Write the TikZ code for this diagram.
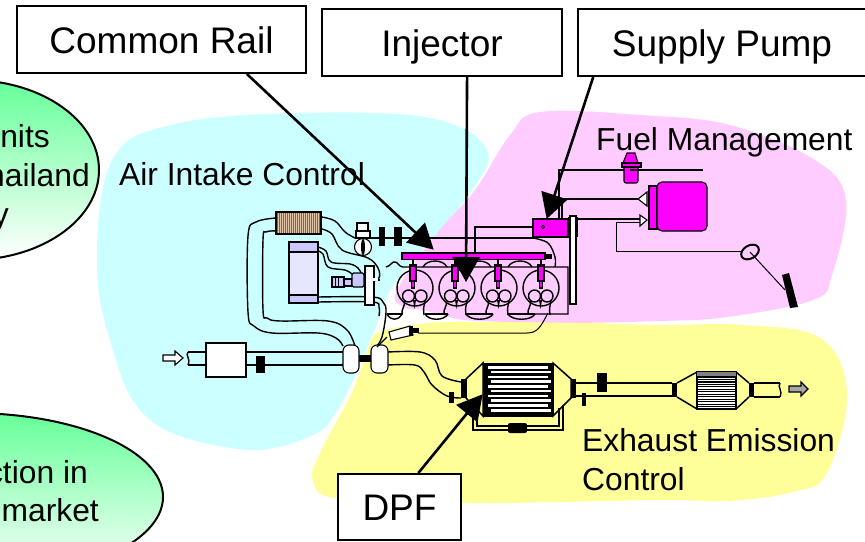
\documentclass[tikz,border=0pt]{standalone}
\usepackage{fontspec}
\setmainfont{Liberation Sans}
\usetikzlibrary{arrows.meta}
\definecolor{airblue}{HTML}{CCFFFF}
\definecolor{fuelpink}{HTML}{FFCCFF}
\definecolor{exhyellow}{HTML}{FFFF99}
\definecolor{railmag}{HTML}{FF00FF}
\definecolor{lav}{HTML}{E6E6FF}
\definecolor{lavd}{HTML}{C8C8FF}
\definecolor{mint}{HTML}{66FF99}
\begin{document}
\begin{tikzpicture}[x=1pt, y=-1pt,
    lbl/.style={draw, line width=2pt, fill=white, font=\fontsize{37}{37}\selectfont, inner sep=0pt, text height=34pt, text depth=7pt},
    txt/.style={font=\fontsize{31.8}{31.8}\selectfont, inner sep=0pt, anchor=base west},
    leader/.style={line width=2.6pt, -{Triangle[length=25pt, width=27pt]}, shorten >=-1pt},
    pipe/.style={line width=1.4pt},
    thin pipe/.style={line width=1pt},
    bar/.style={fill=black, draw=none},
    part/.style={draw, line width=1.1pt}]
    \useasboundingbox (0,0) rectangle (865,541);
    \clip (0,0) rectangle (865,541);

    \fill[airblue] plot[smooth cycle, tension=.62] coordinates {(97,270) (112,160) (175,124) (300,113) (430,118) (487,150) (467,197) (397,280) (380,317) (353,380) (333,417) (313,435) (257,450) (183,437) (140,410) (116,360)};
    \fill[fuelpink] plot[smooth cycle, tension=.62] coordinates {(540,112) (640,115) (730,125) (815,160) (846,200) (832,275) (813,300) (727,317) (660,321) (560,323) (480,321) (453,318) (423,310) (403,307) (397,290) (437,233) (475,190) (510,135)};
    \fill[exhyellow] plot[smooth cycle, tension=.62] coordinates {(413,325) (453,322) (580,323) (660,325) (743,325) (820,338) (847,393) (827,473) (793,492) (727,501) (660,500) (480,503) (340,499) (313,480) (320,453) (353,390) (370,343) (380,332)};

    \draw[line width=2pt, top color=mint, bottom color=white] (-30,170) ellipse [x radius=129, y radius=90];
    \draw[line width=2pt, top color=mint, bottom color=white] (-30,497) ellipse [x radius=193, y radius=84];
    \node[txt, anchor=base east] (unitsa) at (50,147) {nits};
    \node[txt, anchor=base east] (unitsb) at (90,186) {hailand};
    \node[txt, anchor=base east] (unitsc) at (9,225) {y};
    \node[txt, anchor=base east] (marka) at (88,483) {ction in};
    \node[txt, anchor=base east] (markb) at (99,521) {market};

    \node[txt] (airlbl) at (119,185) {Air Intake Control};
    \node[txt] (fuellbl) at (596,150) {Fuel Management};
    \node[txt] (exhlbla) at (582,451) {Exhaust Emission};
    \node[txt] (exhlblb) at (582,490) {Control};

    % intake pipes
    \draw[pipe] plot[smooth, tension=.6] coordinates {(276,218) (256,222) (248,236) (248,312) (254,326) (272,333) (318,333) (336,338) (343,346)};
    \draw[pipe] plot[smooth, tension=.6] coordinates {(276,231) (266,232) (263,240) (263,310) (267,318) (280,321) (328,321) (347,330) (355,346)};
    \draw[pipe] plot[smooth, tension=.6] coordinates {(322,217) (335,221) (345,232) (355,238)};
    \draw[pipe] (355,238) -- (533,238);
    \draw[pipe] plot[smooth, tension=.6] coordinates {(533,238) (548,243) (555,257) (555,267)};
    \draw[pipe] plot[smooth, tension=.6] coordinates {(322,229) (332,234) (342,250) (368,258) (378,268) (379,278) (371,282)};
    \draw[pipe] plot[smooth, tension=.6] coordinates {(318,247) (326,251) (331,262) (350,264) (358,268) (361,273)};
    \draw[pipe] plot[smooth, tension=.6] coordinates {(318,251) (323,254) (328,267) (345,270) (352,274)};
    \draw[pipe] plot[smooth, tension=.6] coordinates {(318,297) (372,297) (383,302) (386,312) (382,337) (376,347)};
    \draw[pipe] plot[smooth, tension=.6] coordinates {(318,302) (372,302) (379,307) (379,316)};
    \draw[pipe] (365,280) -- (380,280);

    % charge cooler
    \fill[brown!45!white] (276,212) rectangle (321,234);
    \foreach \x in {277,279,...,320} {
        \fill[brown!75!black] (\x,213) rectangle ++(1.1,20);
    }
    \draw[line width=1.4pt] (276,212) rectangle (321,234);

    % throttle
    \draw[part, fill=white] (357,223) rectangle (368,231);
    \draw[part, fill=white] (356,231) rectangle (370,238);
    \draw[part, fill=white] (363,247) circle (8.5);
    \fill (363,247) ellipse [x radius=2, y radius=8];
    \fill[bar] (379,227) rectangle (385,246);
    \fill[bar] (394,227) rectangle (402,246);

    % egr cooler
    \draw[part, fill=lav] (289,242) rectangle (318,303);
    \draw[part, fill=lavd] (289,242) rectangle (318,252);
    \draw[part, fill=lavd] (289,295) rectangle (318,303);
    \draw[part, fill=white] (365,266) rectangle (374,305);
    \draw[part, fill=lavd] (332,277) rectangle (344,287);
    \draw[part, fill=lavd] (344,279) rectangle (352,286);
    \draw[part, fill=lavd, rounded corners=1.5pt] (352,273) rectangle (364,287);
    \draw[line width=.8pt] (335,277) -- (335,287) (338,277) -- (338,287);
    \fill[white] (366,278) rectangle (378,281);

    % head and ports
    \draw[pipe] (386,267) .. controls (391,266) and (392,261) .. (395,262) .. controls (398,262) and (399,267) .. (403,267) -- (568,267) -- (568,314) -- (535,314);
    \foreach \hx in {423,467,508} {
        \draw[pipe] (\hx,267) .. controls (\hx+4,259) and (\hx+20,259) .. (\hx+24,267);
    }
    \foreach \bx/\by in {387/402,425/448,466/493,508/535} {
        \draw[pipe] (\bx,314) .. controls (\bx+4,321) and (\by-4,321) .. (\by,314);
        \draw[pipe] (\bx,314) -- (\by,314);
    }
    \foreach \cx in {415,457,499,541} {
        \draw[pipe] (\cx,288) circle (18);
        \draw[pipe, fill=fuelpink] (\cx-6.5,296) circle (6);
        \draw[pipe, fill=fuelpink] (\cx+6,296) circle (6);
        \fill (\cx-2,300) -- (\cx+1,300) -- (\cx-.5,309) -- cycle;
        \draw[pipe] (\cx-11,301) .. controls (\cx-9,306) and (\cx-14,308) .. (\cx-13,315);
        \draw[pipe] (\cx+10,301) .. controls (\cx+9,306) and (\cx+8,308) .. (\cx+9,315);
    }
    \foreach \ix in {413,455,498,541} {
        \fill (\ix-4,264) rectangle (\ix+4,266);
        \fill (\ix-1,259) rectangle (\ix+1,266);
        \draw[part, fill=railmag] (\ix-3,266) rectangle (\ix+3,281);
        \draw[part, fill=railmag] (\ix-1.5,281) rectangle (\ix+1.5,288);
    }

    % rail
    \draw[pipe] (475,253) -- (475,227) -- (543,227);
    \draw[line width=1.3pt, fill=railmag] (402,253) rectangle (545,259.5);
    \fill[bar] (545,254) rectangle (552,259);

    % fuel side
    \draw[line width=1.6pt] (703,170) -- (559,170) -- (559,220);
    \draw[pipe] (638,199) -- (562,199) -- (562,219);
    \draw[part, fill=railmag] (533,219) rectangle (568,237);
    \draw[line width=.8pt, fill=railmag] (543,227) circle (1.8);
    \fill[bar] (568,217) rectangle (578,237);
    \draw[part, fill=white] (570,216) rectangle (576,304);
    \draw[pipe] (578,219) -- (640,219);
    \draw[thin pipe] (640,222) -- (616,222) -- (616,251) -- (743,251);
    \draw[thin pipe] (750,252) -- (785,290);
    \draw[line width=2pt] (750,252) ellipse [x radius=9.5, y radius=6.5, rotate=30];
    \fill[bar] (782,275) -- (789,273) -- (798,307) -- (790,308) -- cycle;
    \draw[part, fill=white] (638,199) -- (647,192) -- (647,206) -- cycle;
    \draw[part, fill=white] (647,220) -- (640,215) -- (640,226) -- cycle;
    \draw[part, fill=railmag] (649,186) rectangle (657,229);
    \draw[part, fill=railmag, rounded corners=5pt] (657,182) rectangle (707,231);
    \draw[part, fill=railmag] (623,163) -- (627,153) -- (635,153) -- (638,163) -- cycle;
    \draw[part, fill=railmag, rounded corners=2pt] (624,166) rectangle (638,183);
    \draw[part, fill=railmag] (622,163) rectangle (641,167);
    \draw[line width=1.4pt] (630,170) -- (640,170);

    % air filter and turbo
    \draw[pipe] (188,352) -- (343,352);
    \draw[pipe] (188,365) -- (343,365);
    \draw[pipe] (188,352) .. controls (185,356) and (191,358) .. (188,365);
    \draw[part, fill=white, line width=1.4pt] (206,343) rectangle (246,377);
    \draw[part, fill=white] (163,355) -- (175,355) -- (175,351) -- (183,358) -- (175,365) -- (175,361) -- (163,361) -- cycle;
    \fill[bar] (256,356) rectangle (265,373);
    \fill[bar] (358,355) rectangle (372,362);
    \draw[part, fill=white, rounded corners=6pt] (343,345) rectangle (359,373);
    \draw[part, fill=white, rounded corners=6pt] (371,345) rectangle (388,373);

    % o2 sensor
    \draw[pipe] (387,337) -- (377,347);
    \draw[thin pipe] (418,333) -- (527,333) .. controls (538,333) and (541,326) .. (548,313);
    \draw[part, fill=white] (389,332) -- (410,326) -- (413,335) -- (391,340) -- cycle;
    \fill[bar] (409,326) rectangle (413,336);
    \fill[bar] (413,328) rectangle (419,333);

    % exhaust line
    \draw[pipe] plot[smooth, tension=.6] coordinates {(388,352) (420,352) (435,360) (442,376) (461,382)};
    \draw[pipe] plot[smooth, tension=.6] coordinates {(388,365) (415,365) (424,372) (432,385) (447,396) (461,398)};
    \fill[bar] (449,392) rectangle (454,403);
    \fill[bar] (461,379) rectangle (466,398);
    \draw[line width=1.5pt, fill=exhyellow] (466,379) -- (483,363) -- (483,416) -- (466,398) -- cycle;
    \draw[line width=1.5pt, fill=exhyellow] (571,379) -- (553,363) -- (553,416) -- (571,398) -- cycle;
    \fill[black] (483,363) rectangle (553,417);
    \foreach \sy in {366,375.5,385,394.5,404} {
        \fill[white] (488,\sy) rectangle (548,\sy+2.5);
    }
    \foreach \sy in {370.5,380,389.5,399,409} {
        \fill[white] (491,\sy) rectangle (551,\sy+2.5);
    }
    \fill[bar] (571,379) rectangle (576,398);
    \draw[pipe] (576,383) -- (672,383);
    \draw[pipe] (576,396) -- (672,396);
    \fill[bar] (597,373) rectangle (607,392);
    \fill[bar] (582,393) rectangle (586,406);

    % dpf bypass
    \draw[pipe] (473,414) -- (473,430) -- (563,430) -- (563,405);
    \draw[pipe] (477,415) -- (477,426) -- (559,426) -- (559,408);
    \fill[rounded corners=2pt] (508,423) rectangle (527,433);

    % catalyst
    \fill[bar] (672,383) rectangle (677,397);
    \draw[line width=1.5pt] (677,383) -- (697,372) (677,397) -- (697,409);
    \draw[line width=1.5pt] (736,372) -- (749,383) (736,409) -- (749,397);
    \draw[part, fill=white] (697,372) rectangle (736,409);
    \fill[gray] (697,372) rectangle (736,376);
    \foreach \sy/\sw in {376/1.8,378.5/1.8,381/1.6,383.5/1.6,386/1.4,388.5/1.4,391/1.2,393.5/1.2,396/1,398.5/1,401/.9,403.5/.8,406/.7} {
        \fill[black] (697,\sy) rectangle (736,\sy+\sw);
    }
    \fill[bar] (749,383) rectangle (754,397);
    \draw[pipe] (754,383) -- (780,383) (754,397) -- (780,397);
    \draw[pipe] (780,383) .. controls (777,387) and (783,390) .. (780,397);
    \draw[part, fill=gray!70] (789,386) -- (801,386) -- (801,382) -- (808,389) -- (801,396) -- (801,392) -- (789,392) -- cycle;

    % callouts
    \node[lbl, minimum width=289pt, minimum height=67pt] (railbox) at (161.5,39.5) {Common Rail};
    \node[lbl, minimum width=240pt, minimum height=67pt] (injbox) at (442,42.5) {Injector};
    \node[lbl, minimum width=288pt, minimum height=67pt] (pumpbox) at (722,42.5) {Supply Pump};
    \node[lbl, minimum width=123pt, minimum height=66pt] (dpfbox) at (399.5,507) {DPF};

    \coordinate (railtip) at (433,249);
    \coordinate (injtip) at (466,281);
    \coordinate (pumptip) at (547,218);
    \coordinate (dpftip) at (482,395);

    \draw[leader] (railbox.-22) -- (railtip);
    \draw[leader] (injbox.-54) -- (injtip);
    \draw[leader] (pumpbox.-165) -- (pumptip);
    \draw[leader] (dpfbox.61) -- (dpftip);
\end{tikzpicture}
\end{document}
